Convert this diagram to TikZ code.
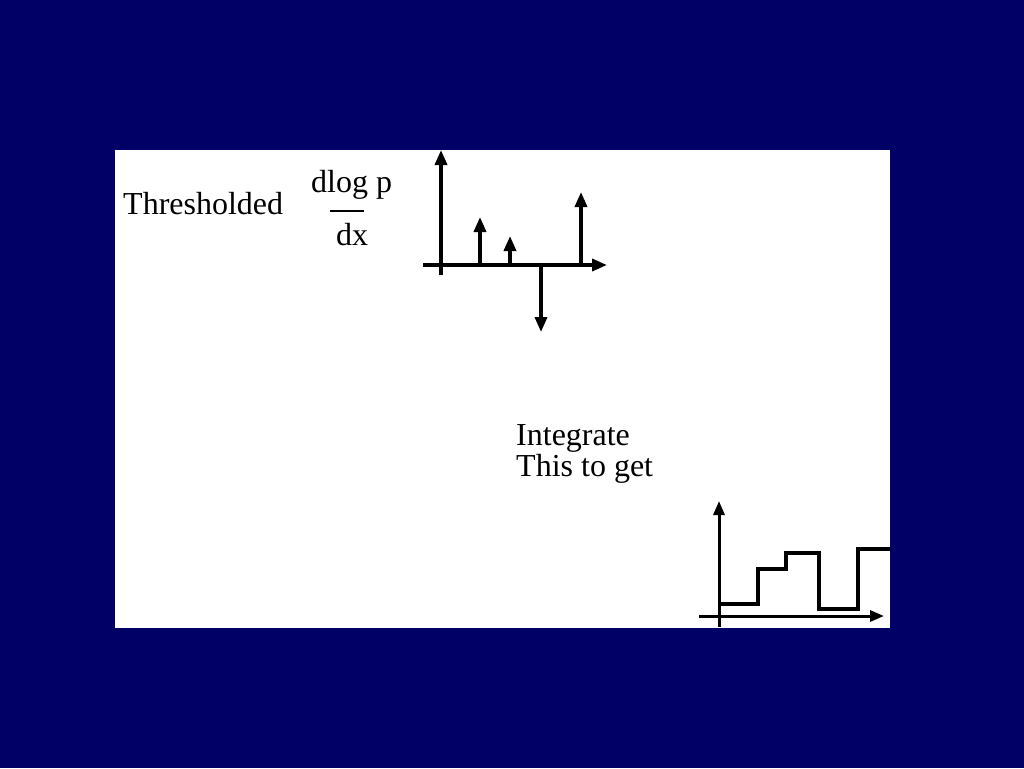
\documentclass[tikz,border=0pt]{standalone}
\usepackage{fontspec}
\setmainfont{Liberation Serif}
\usetikzlibrary{arrows.meta}
\definecolor{slidebg}{RGB}{0,0,102}
\begin{document}
\begin{tikzpicture}[
    x=1pt, y=-1pt,
    font=\fontsize{32}{31}\selectfont,
    >={Triangle[width=12pt,length=15pt]},
    txt/.style={inner sep=0pt, anchor=base west},
    axis/.style={->, line width=3.5pt},
    thinaxis/.style={->, line width=3pt, >={Triangle[width=11pt,length=14pt]}},
    spike/.style={->, line width=3.5pt},
    curve/.style={line width=3.5pt, line join=miter}
]

    % Slide background
    \fill[slidebg] (0,0) rectangle (1024,768);
    \fill[white] (115,150) rectangle (890,628);
    \useasboundingbox (0,0) rectangle (1024,768);

    % Thresholded derivative label
    \node (thresh) [txt] at (123,214) {Thresholded};
    \node (num) [txt] at (311,192) {dlog p};
    \node (den) [txt] at (336,245) {dx};
    \draw [line width=2pt] (330,211) -- (364,211);

    % Impulse axes
    \draw [axis] (441,275) -- (441,150);
    \draw [axis] (423,265) -- (607,265);

    % Impulses
    \draw [spike] (480,265) -- (480,217);
    \draw [spike] (510,265) -- (510,236);
    \draw [spike] (541,265) -- (541,332);
    \draw [spike] (581,265) -- (581,192);

    % Integrate label
    \node (integ) [inner sep=0pt, anchor=north west, align=left] at (516,424) {Integrate\\This to get};

    % Step function axes
    \draw [thinaxis] (719,627) -- (719,501);
    \draw [thinaxis] (699,616) -- (884,616);

    % Step function
    \draw [curve] (719,604) -- (758,604) -- (758,569) -- (786,569) -- (786,553)
        -- (819,553) -- (819,609) -- (858,609) -- (858,549) -- (890,549);

\end{tikzpicture}
\end{document}
